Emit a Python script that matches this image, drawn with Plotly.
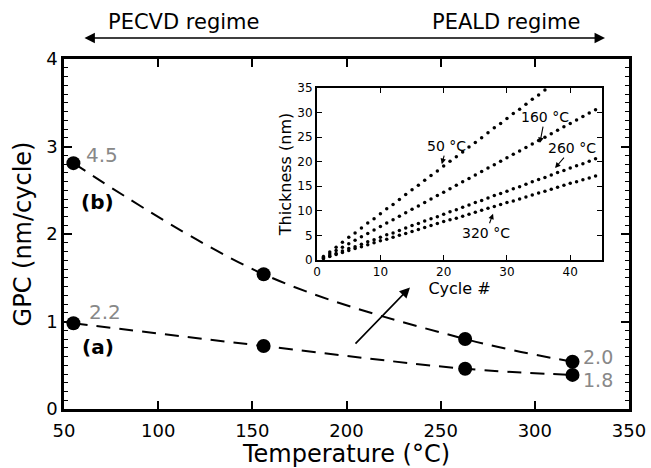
import plotly.graph_objects as go

# Main panel data
temps = [55, 156, 263, 320]
gpc_a = [0.98, 0.72, 0.46, 0.39]
gpc_b = [2.81, 1.54, 0.80, 0.54]
ald_labels_a = ["2.2", "1.8"]
ald_labels_b = ["4.5", "2.0"]

# Inset data: thickness (nm) per cycle
cyc_50 = list(range(1, 37))
thk_50 = [0.7, 1.6, 2.6, 3.6, 4.6, 5.5, 6.5, 7.5, 8.4, 9.4, 10.4, 11.3, 12.3, 13.3, 14.3, 15.2,
          16.2, 17.2, 18.1, 19.1, 20.1, 21.0, 22.0, 23.0, 23.9, 24.9, 25.9, 26.9, 27.8, 28.8,
          29.8, 30.7, 31.7, 32.7, 33.6, 34.6]
cyc_all = list(range(1, 45))
thk_160 = [0.5, 1.2, 1.9, 2.6, 3.3, 4.0, 4.7, 5.4, 6.1, 6.8, 7.5, 8.2, 8.9, 9.6, 10.3, 11.0, 11.7,
           12.4, 13.1, 13.8, 14.5, 15.2, 15.9, 16.6, 17.3, 18.0, 18.7, 19.4, 20.1, 20.8, 21.5,
           22.2, 22.9, 23.6, 24.3, 25.0, 25.7, 26.4, 27.1, 27.8, 28.5, 29.2, 29.9, 30.6]
thk_260 = [0.4, 0.8, 1.3, 1.8, 2.3, 2.7, 3.2, 3.7, 4.1, 4.6, 5.1, 5.5, 6.0, 6.5, 7.0, 7.4, 7.9,
           8.4, 8.8, 9.3, 9.8, 10.2, 10.7, 11.2, 11.7, 12.1, 12.6, 13.1, 13.5, 14.0, 14.5, 14.9,
           15.4, 15.9, 16.4, 16.8, 17.3, 17.8, 18.2, 18.7, 19.2, 19.6, 20.1, 20.6]
thk_320 = [0.3, 0.7, 1.1, 1.5, 1.9, 2.3, 2.7, 3.1, 3.5, 3.9, 4.2, 4.6, 5.0, 5.4, 5.8, 6.2, 6.6,
           7.0, 7.4, 7.8, 8.2, 8.5, 8.9, 9.3, 9.7, 10.1, 10.5, 10.9, 11.3, 11.7, 12.0, 12.4,
           12.8, 13.2, 13.6, 14.0, 14.4, 14.8, 15.2, 15.6, 15.9, 16.3, 16.7, 17.1]

FONT = "DejaVu Sans"
fig = go.Figure()

for ys in (gpc_a, gpc_b):
    fig.add_trace(go.Scatter(
        x=temps, y=ys, mode="lines+markers",
        line=dict(color="black", width=2, dash="14px,9px", shape="spline"),
        marker=dict(color="black", size=14),
        showlegend=False, hoverinfo="skip"))

for cx, th in ((cyc_50, thk_50), (cyc_all, thk_160), (cyc_all, thk_260), (cyc_all, thk_320)):
    fig.add_trace(go.Scatter(
        x=cx, y=th, mode="markers", xaxis="x2", yaxis="y2",
        marker=dict(color="black", size=3.5),
        showlegend=False, hoverinfo="skip"))

ann = []
# gray GPC labels
gray = "#888888"
ann.append(dict(x=61.2, y=2.90, text=ald_labels_b[0], xanchor="left", yanchor="middle", size=20))
ann.append(dict(x=62.7, y=1.11, text=ald_labels_a[0], xanchor="left", yanchor="middle", size=20))
ann.append(dict(x=325.1, y=0.60, text=ald_labels_b[1], xanchor="left", yanchor="middle", size=19))
ann.append(dict(x=325.1, y=0.33, text=ald_labels_a[1], xanchor="left", yanchor="middle", size=19))
for a in ann:
    sz = a.pop("size")
    a.update(xref="x", yref="y", showarrow=False, borderpad=0,
             font=dict(family=FONT, size=sz, color=gray))

ann.append(dict(x=68, y=2.37, xref="x", yref="y", text="<b>(b)</b>", showarrow=False,
                font=dict(family=FONT, size=20, color="black")))
ann.append(dict(x=67.8, y=0.71, xref="x", yref="y", text="<b>(a)</b>", showarrow=False,
                font=dict(family=FONT, size=20, color="black")))

# main arrow pointing toward inset
ann.append(dict(x=233.7, y=1.39, ax=204, ay=0.73, xref="x", yref="y", axref="x", ayref="y",
                text="", showarrow=True, arrowhead=2, arrowsize=1.3, arrowwidth=1.6,
                arrowcolor="black"))

# regime arrow and labels
ann.append(dict(x=0.9575, y=1.06, xref="paper", yref="paper", ax=-522, ay=0, text="",
                showarrow=True, arrowhead=2, arrowside="end+start", arrowsize=1.3,
                arrowwidth=1.6, arrowcolor="black"))
ann.append(dict(x=0.2115, y=1.106, xref="paper", yref="paper", text="PECVD regime",
                xanchor="center", yanchor="middle",
                showarrow=False, font=dict(family=FONT, size=21, color="black")))
ann.append(dict(x=0.782, y=1.106, xref="paper", yref="paper", text="PEALD regime",
                xanchor="center", yanchor="middle",
                showarrow=False, font=dict(family=FONT, size=21, color="black")))

# inset temperature labels
for tx, ty, axp, ayp, lab in ((19.7, 19.5, 5, -18, "50 °C"), (35.2, 23.8, 5, -26, "160 °C"),
                              (37.6, 18.7, 17, -20, "260 °C"), (27.8, 9.4, -7, 19, "320 °C")):
    ann.append(dict(x=tx, y=ty, xref="x2", yref="y2", ax=axp, ay=ayp, text=lab,
                    showarrow=True, arrowhead=2, arrowsize=1, arrowwidth=1.1,
                    arrowcolor="black", font=dict(family=FONT, size=14, color="black"),
                    bgcolor="rgba(0,0,0,0)"))

axis_common = dict(showgrid=False, zeroline=False, showline=True, linecolor="black",
                   mirror="ticks", ticks="inside", tickcolor="black")

fig.update_layout(
    width=651, height=468,
    margin=dict(l=64, r=22, t=59, b=59, autoexpand=False),
    paper_bgcolor="white", plot_bgcolor="white",
    font=dict(family=FONT, color="black"),
    showlegend=False,
    xaxis=dict(**axis_common, range=[50, 350], tickvals=[50, 100, 150, 200, 250, 300, 350],
               linewidth=2.5, ticklen=8, tickwidth=1.5, tickfont=dict(size=18),
               ticklabelstandoff=4, automargin=False,
               title=dict(text="Temperature (°C)", font=dict(size=24), standoff=12)),
    yaxis=dict(**axis_common, range=[0, 4], tickvals=[0, 1, 2, 3, 4],
               linewidth=2.5, ticklen=8, tickwidth=1.5, tickfont=dict(size=18),
               automargin=False,
               minor=dict(dtick=0.1, ticks="inside", ticklen=4, tickwidth=1.2,
                          tickcolor="black", showgrid=False),
               title=dict(text="GPC (nm/cycle)", font=dict(size=24), standoff=8)),
    xaxis2=dict(**axis_common, domain=[0.448, 0.952], anchor="y2", range=[0, 45],
                tickvals=[0, 10, 20, 30, 40], linewidth=2.2, ticklen=5, tickwidth=1.2,
                tickfont=dict(size=12), automargin=False,
                title=dict(text="Cycle #", font=dict(size=16), standoff=2)),
    yaxis2=dict(**axis_common, domain=[0.426, 0.917], anchor="x2", range=[0, 35],
                tickvals=[0, 5, 10, 15, 20, 25, 30, 35], linewidth=2.2, ticklen=5,
                tickwidth=1.2, tickfont=dict(size=12), automargin=False,
                title=dict(text="Thickness (nm)", font=dict(size=16), standoff=2)),
    annotations=ann,
)

fig.write_html("out.html")
